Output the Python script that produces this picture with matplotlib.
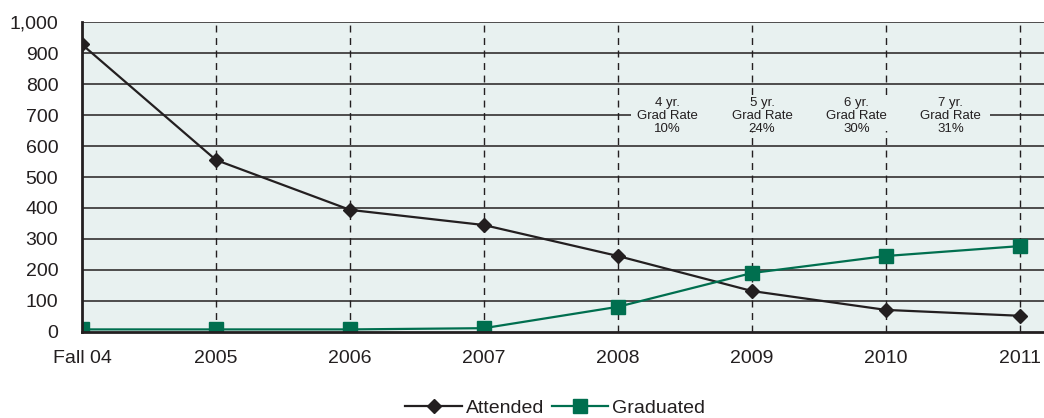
import numpy as np
import matplotlib.pyplot as plt

plt.rcParams['font.family'] = ['Liberation Sans', 'DejaVu Sans']

years = ["Fall 04", "2005", "2006", "2007", "2008", "2009", "2010", "2011"]
attended = [928, 555, 394, 345, 245, 132, 71, 52]
graduated = [8, 8, 8, 12, 81, 190, 245, 277]
rate_labels = ["4 yr.\nGrad Rate\n10%", "5 yr.\nGrad Rate\n24%",
               "6 yr.\nGrad Rate\n30%", "7 yr.\nGrad Rate\n31%"]

dark = '#231f20'
green = '#006f4f'

fig = plt.figure(figsize=(10.44, 4.18), dpi=100)
ax = fig.add_axes([0.0785, 0.206, 0.9215, 0.741])
ax.set_facecolor('#e8f1f0')

x = np.arange(len(years))
for v in range(100, 1001, 100):
    ax.axhline(v, color=dark, lw=1.1, zorder=1)
for xi in x[1:]:
    ax.axvline(xi, color=dark, lw=1, ls=(0, (5, 4)), zorder=1)

# box behind the grad-rate notes
ax.add_patch(plt.Rectangle((4.1, 650), 2.68, 100, facecolor='#e8f1f0',
                           edgecolor='none', zorder=2))
for i, t in enumerate(rate_labels):
    ax.text(4.37 + i * 0.705, 698, t, ha='center', va='center',
            fontsize=9.5, color=dark, linespacing=1.12, zorder=3)

ax.plot(x, attended, color=dark, lw=1.6, marker='D', ms=7, label='Attended', zorder=4)
ax.plot(x, graduated, color=green, lw=1.6, marker='s', ms=10, label='Graduated', zorder=5)

ax.set_xlim(0, 7.18)
ax.set_ylim(0, 1000)
ax.set_xticks(x)
ax.set_xticklabels(years)
ax.set_yticks(range(0, 1001, 100))
ax.set_yticklabels([f"{v:,}" for v in range(0, 1001, 100)])
ax.tick_params(length=0, labelsize=14, colors=dark)
ax.tick_params(axis='y', pad=17)
ax.tick_params(axis='x', pad=13)
for s in ['top', 'right']:
    ax.spines[s].set_visible(False)
for s in ['left', 'bottom']:
    ax.spines[s].set_color(dark)
    ax.spines[s].set_linewidth(2)
    ax.spines[s].set_zorder(6)

ax.legend(loc='center', bbox_to_anchor=(0.492, -0.245), ncol=2, frameon=False,
          fontsize=14, handlelength=2.9, columnspacing=0.4, handletextpad=0.2,
          labelcolor=dark, borderpad=0)

fig.savefig('out.png', dpi=100)
